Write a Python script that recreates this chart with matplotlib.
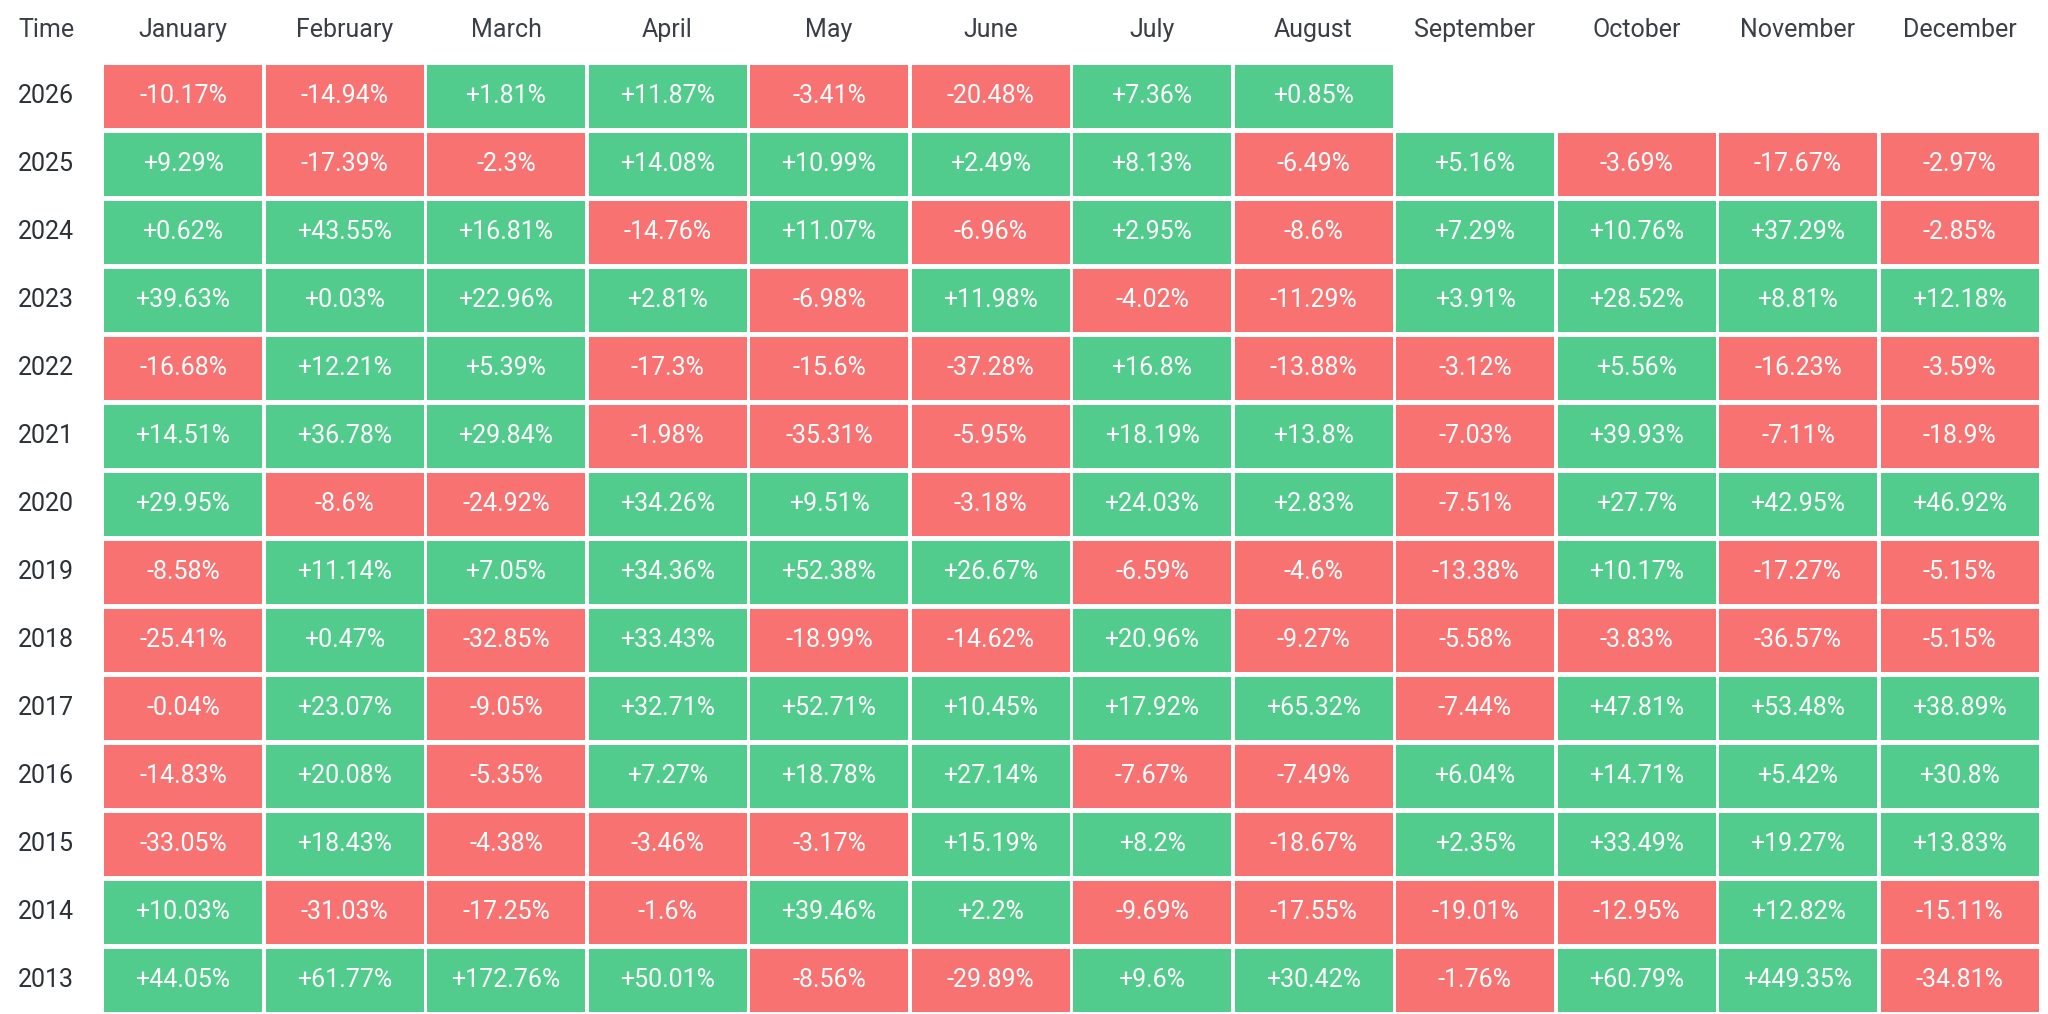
import numpy as np
import matplotlib.pyplot as plt
from matplotlib.patches import Rectangle

plt.rcParams['font.family'] = ['Roboto', 'DejaVu Sans']

months = ['January', 'February', 'March', 'April', 'May', 'June', 'July',
          'August', 'September', 'October', 'November', 'December']
years = [2026, 2025, 2024, 2023, 2022, 2021, 2020, 2019, 2018, 2017, 2016, 2015, 2014, 2013]

# monthly returns in %, None = no data yet
r2026 = [-10.17, -14.94, 1.81, 11.87, -3.41, -20.48, 7.36, 0.85, None, None, None, None]
r2025 = [9.29, -17.39, -2.3, 14.08, 10.99, 2.49, 8.13, -6.49, 5.16, -3.69, -17.67, -2.97]
r2024 = [0.62, 43.55, 16.81, -14.76, 11.07, -6.96, 2.95, -8.6, 7.29, 10.76, 37.29, -2.85]
r2023 = [39.63, 0.03, 22.96, 2.81, -6.98, 11.98, -4.02, -11.29, 3.91, 28.52, 8.81, 12.18]
r2022 = [-16.68, 12.21, 5.39, -17.3, -15.6, -37.28, 16.8, -13.88, -3.12, 5.56, -16.23, -3.59]
r2021 = [14.51, 36.78, 29.84, -1.98, -35.31, -5.95, 18.19, 13.8, -7.03, 39.93, -7.11, -18.9]
r2020 = [29.95, -8.6, -24.92, 34.26, 9.51, -3.18, 24.03, 2.83, -7.51, 27.7, 42.95, 46.92]
r2019 = [-8.58, 11.14, 7.05, 34.36, 52.38, 26.67, -6.59, -4.6, -13.38, 10.17, -17.27, -5.15]
r2018 = [-25.41, 0.47, -32.85, 33.43, -18.99, -14.62, 20.96, -9.27, -5.58, -3.83, -36.57, -5.15]
r2017 = [-0.04, 23.07, -9.05, 32.71, 52.71, 10.45, 17.92, 65.32, -7.44, 47.81, 53.48, 38.89]
r2016 = [-14.83, 20.08, -5.35, 7.27, 18.78, 27.14, -7.67, -7.49, 6.04, 14.71, 5.42, 30.8]
r2015 = [-33.05, 18.43, -4.38, -3.46, -3.17, 15.19, 8.2, -18.67, 2.35, 33.49, 19.27, 13.83]
r2014 = [10.03, -31.03, -17.25, -1.6, 39.46, 2.2, -9.69, -17.55, -19.01, -12.95, 12.82, -15.11]
r2013 = [44.05, 61.77, 172.76, 50.01, -8.56, -29.89, 9.6, 30.42, -1.76, 60.79, 449.35, -34.81]

returns = [r2026, r2025, r2024, r2023, r2022, r2021, r2020,
           r2019, r2018, r2017, r2016, r2015, r2014, r2013]

GREEN = '#52cc8c'
RED = '#f97272'
W, H = 2048, 1014

fig = plt.figure(figsize=(W / 100, H / 100), dpi=100)
# table area in pixels: first cell at x=104, y=65, pitch 161.5 x 68
x0, y0, px, py = 104, 65, 161.5, 68
ax = fig.add_axes([x0 / W, 1 - (y0 + py * len(years)) / H,
                   px * len(months) / W, py * len(years) / H])
ax.set_xlim(0, len(months))
ax.set_ylim(len(years), 0)
ax.axis('off')

cw = 158 / px
ch = 63 / py

for j, row in enumerate(returns):
    for i, v in enumerate(row):
        if v is None:
            continue
        c = GREEN if v >= 0 else RED
        ax.add_patch(Rectangle((i, j), cw, ch, facecolor=c, edgecolor='none'))
        ax.text(i + cw / 2, j + ch / 2, f'{v:+g}%', ha='center', va='center',
                color='white', fontsize=18)

hy = (30 - y0) / py
for i, m in enumerate(months):
    ax.text(i + cw / 2, hy, m, ha='center', va='center', color='#3a3f47',
            fontsize=18)
yx = (18 - x0) / px
ax.text(yx, hy, 'Time', ha='left', va='center', color='#3a3f47', fontsize=18)
for j, y in enumerate(years):
    ax.text(yx, j + ch / 2, str(y), ha='left', va='center', color='#2b3139',
            fontsize=18)

fig.savefig('out.png', dpi=100)
